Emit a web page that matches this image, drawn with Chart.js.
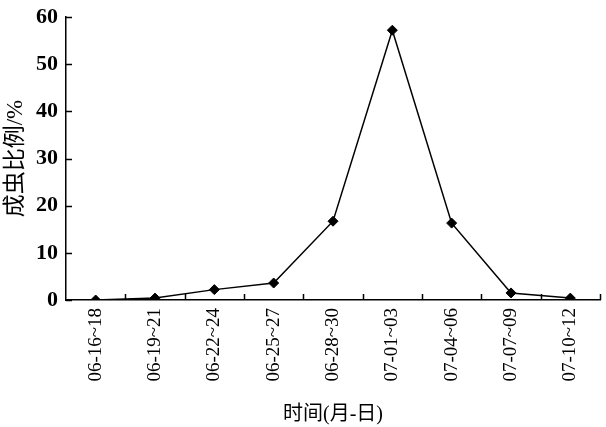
<!DOCTYPE html>
<html>
<head>
<meta charset="utf-8">
<script src="https://cdn.jsdelivr.net/npm/chart.js@4"></script>
<style>
  html, body { margin: 0; padding: 0; background: #fff; }
  #wrap { width: 606px; height: 427px; position: relative; }
</style>
</head>
<body>
<div id="wrap"><canvas id="chart"></canvas></div>
<script>
'use strict';

// data
var periods = ['06-16~18', '06-19~21', '06-22~24', '06-25~27', '06-28~30', '07-01~03', '07-04~06', '07-07~09', '07-10~12'];
var adult_ratio = [0, 0.4, 2.2, 3.6, 16.7, 57.2, 16.3, 1.5, 0.4];
var y_ticks = [0, 10, 20, 30, 40, 50, 60];

var serif = '"Liberation Serif", "Times New Roman", "Noto Sans CJK SC", serif';

// draw the short tick marks on the inside of both axes
var inward_ticks = {
    id: 'inward_ticks',
    afterDraw: function(chart) {
        var ctx = chart.ctx;
        var xs = chart.scales.x, ys = chart.scales.y;
        var area = chart.chartArea;
        var step = xs.getPixelForValue(1) - xs.getPixelForValue(0);
        ctx.save();
        ctx.strokeStyle = '#000';
        ctx.lineWidth = 1.5;
        ctx.beginPath();
        y_ticks.forEach(function(v) {
            var py = Math.round(ys.getPixelForValue(v)) + 0.5;
            ctx.moveTo(area.left, py);
            ctx.lineTo(area.left + 6, py);
        });
        for (var i = 1; i <= periods.length; i++) {
            var px = Math.round(xs.getPixelForValue(i - 1) + step / 2) + 0.5;
            ctx.moveTo(px, area.bottom);
            ctx.lineTo(px, area.bottom - 6);
        }
        ctx.stroke();
        ctx.restore();
    }
};

new Chart(document.getElementById('chart'), {
    type: 'line',
    data: {
        labels: periods,
        datasets: [{
            data: adult_ratio,
            borderColor: '#000',
            borderWidth: 1.5,
            backgroundColor: '#000',
            pointStyle: 'rectRot',
            pointRadius: 5,
            pointBorderWidth: 1,
            tension: 0,
            fill: false
        }]
    },
    options: {
        responsive: true,
        maintainAspectRatio: false,
        animation: false,
        layout: { padding: { top: 17, right: 3, left: 2, bottom: 0 } },
        plugins: { legend: { display: false }, tooltip: { enabled: false } },
        scales: {
            x: {
                offset: true,
                grid: { display: false, drawTicks: false },
                border: { display: true, color: '#000', width: 1.5 },
                ticks: {
                    color: '#000',
                    font: { family: serif, size: 19 },
                    minRotation: 90,
                    maxRotation: 90,
                    padding: 8,
                    autoSkip: false
                },
                title: {
                    display: true,
                    text: '时间(月-日)',
                    color: '#000',
                    font: { family: serif, size: 20 },
                    padding: { top: 2, bottom: 0 }
                },
                afterFit: function(scale) { scale.height = 127; }
            },
            y: {
                min: 0,
                max: 60,
                grid: { display: false, drawTicks: false },
                border: { display: true, color: '#000', width: 1.5 },
                afterBuildTicks: function(scale) {
                    scale.ticks = y_ticks.map(function(v) { return { value: v }; });
                },
                ticks: {
                    color: '#000',
                    font: { family: serif, size: 22, weight: 'bold' },
                    padding: 8
                },
                title: {
                    display: true,
                    text: '成虫比例/%',
                    color: '#000',
                    font: { family: serif, size: 23 },
                    padding: { top: 0, bottom: 2 }
                },
                afterFit: function(scale) {
                    scale.width = 64;
                    scale.paddingTop = 0;
                    scale.paddingBottom = 0;
                }
            }
        }
    },
    plugins: [inward_ticks]
});
</script>
</body>
</html>
